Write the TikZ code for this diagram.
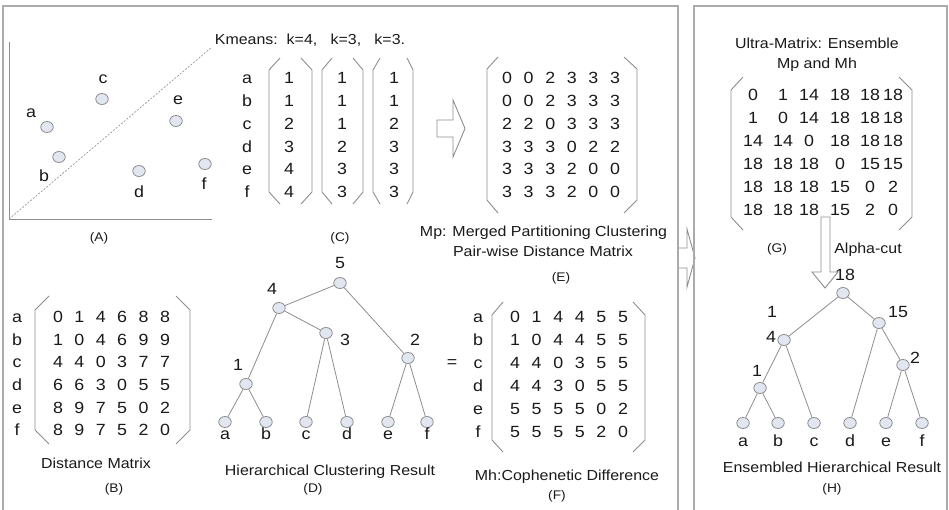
\documentclass[tikz,border=0pt]{standalone}
\usepackage{fontspec}
\setmainfont{Liberation Sans}[FakeStretch=1.1]
\usetikzlibrary{shapes.geometric}
\definecolor{frm}{HTML}{ABABAB}
\definecolor{ln}{HTML}{8E8E8E}
\definecolor{dotfill}{HTML}{E2E6F0}
\definecolor{txt}{HTML}{1A1A1A}
\tikzset{
 mat/.style={font=\fontsize{16.2}{18}\selectfont, text=txt, inner sep=0pt, text height=11.6pt, text depth=0pt},
 captxt/.style={font=\fontsize{14.5}{16}\selectfont, text=txt, inner sep=0pt, text height=10.4pt, text depth=0pt},
 lbl/.style={font=\fontsize{12.5}{14}\selectfont, text=txt, inner sep=0pt, text height=9pt, text depth=0pt},
 ball/.style={ellipse, draw=ln, fill=dotfill, line width=0.8pt, minimum width=12.5pt, minimum height=11pt, inner sep=0pt},
 conn/.style={draw=ln, line width=0.8pt},
 brk/.style={draw=ln, line width=0.9pt, line join=miter},
 boxline/.style={draw=frm, line width=1.3pt},
 hollow/.style={draw=ln, fill=white, line width=0.9pt, line join=miter},
}
\begin{document}
\begin{tikzpicture}[x=1pt,y=-1pt]
\fill[white] (0,0) rectangle (949,510);
\useasboundingbox (0,0) rectangle (949,510);

% ---------- frames and connecting arrow ----------
\draw[hollow] (678,248) -- (687,248) -- (687,229) -- (695,258) -- (687,287) -- (687,268) -- (678,268);
\draw[boxline] (3,510) -- (3,6) -- (678,6) -- (678,510);
\draw[boxline] (694,510) -- (694,6) -- (947,6) -- (947,510);

% ---------- (A) scatter ----------
\draw[ln, line width=0.8pt] (9,42) -- (9,219) -- (212,219);
\draw[ln, dash pattern=on 2pt off 1.5pt, line width=0.6pt] (9,219) -- (212,47);
\foreach \n/\x/\y/\lx/\ly in {a/47/127/31/112, b/59/157/44/176, c/102/99/103/78, d/139/171/139/192, e/176/121/178/99, f/205/164/204/184} {
  \node[ball] (p\n) at (\x,\y) {};
  \node[mat] (pl\n) at (\lx,\ly) {\n};
}
\node[lbl] (tA) at (99,237) {(A)};

% ---------- (C) kmeans ----------
\node[captxt] (km) at (310,39) {Kmeans:~~k=4,~~~k=3,~~~k=3.};
\foreach \l [count=\i] in {a,...,f}
  \node[mat] (Cl\i) at (247,{78+(\i-1)*22.8}) {\l};
\foreach \col/\cx [count=\k] in {{1,1,2,3,4,4}/289, {1,1,1,2,3,3}/342, {1,1,2,3,3,3}/394} {
  \foreach \v [count=\i] in \col
    \node[mat] (C\k\i) at (\cx,{78+(\i-1)*22.8}) {\v};
}
\draw[brk] (280,58) -- (269,70) -- (269,192) -- (280,204);
\draw[brk] (301,58) -- (312,70) -- (312,192) -- (301,204);
\draw[brk] (332,58) -- (322,70) -- (322,192) -- (332,204);
\draw[brk] (353,58) -- (363,70) -- (363,192) -- (353,204);
\draw[brk] (380,58) -- (373,70) -- (373,192) -- (380,204);
\draw[brk] (407,58) -- (413,70) -- (413,192) -- (407,204);
\node[lbl] (tC) at (340,237) {(C)};

% ---------- arrow C -> E ----------
\draw[hollow] (437,120) -- (453,120) -- (453,100) -- (465,128.5) -- (453,157) -- (453,137) -- (437,137) -- cycle;

% ---------- (E) Mp ----------
\foreach \r [count=\i] in {{0,0,2,3,3,3},{0,0,2,3,3,3},{2,2,0,3,3,3},{3,3,3,0,2,2},{3,3,3,2,0,0},{3,3,3,2,0,0}} {
  \foreach \v [count=\j] in \r
    \node[mat] (E\i\j) at ({507+(\j-1)*21.6},{78+(\i-1)*22.8}) {\v};
}
\draw[brk] (498,57) -- (487,69) -- (487,200) -- (498,213);
\draw[brk] (624,57) -- (637,69) -- (637,200) -- (624,213);
\node[captxt] (mp1) at (543.5,231) {Mp: Merged Partitioning Clustering};
\node[captxt] (mp2) at (543,251) {Pair-wise Distance Matrix};
\node[lbl] (tE) at (561,277) {(E)};

% ---------- (B) distance matrix ----------
\foreach \l [count=\i] in {a,...,f}
  \node[mat] (Bl\i) at (17,{316.5+(\i-1)*22.7}) {\l};
\foreach \r [count=\i] in {{0,1,4,6,8,8},{1,0,4,6,9,9},{4,4,0,3,7,7},{6,6,3,0,5,5},{8,9,7,5,0,2},{8,9,7,5,2,0}} {
  \foreach \v [count=\j] in \r
    \node[mat] (B\i\j) at ({58+(\j-1)*21.4},{316.5+(\i-1)*22.7}) {\v};
}
\draw[brk] (49,296) -- (35,310) -- (35,430) -- (49,444);
\draw[brk] (176,296) -- (190,310) -- (190,430) -- (176,444);
\node[captxt] (capB) at (96,463) {Distance Matrix};
\node[lbl] (tB) at (114,488) {(B)};

% ---------- (D) hierarchical tree ----------
\node[ball] (d5) at (340,283) {};
\node[ball] (d4) at (279,308) {};
\node[ball] (d3) at (326,333) {};
\node[ball] (d2) at (408,358) {};
\node[ball] (d1) at (246,384) {};
\foreach \l/\x in {a/225,b/266,c/306,d/347,e/388,f/427} {
  \node[ball] (dl\l) at (\x,422) {};
  \node[mat] (dt\l) at (\x,434) {\l};
}
\draw[conn] (d5) -- (d4);
\draw[conn] (d5) -- (d2);
\draw[conn] (d4) -- (d1);
\draw[conn] (d4) -- (d3);
\draw[conn] (d1) -- (dla);
\draw[conn] (d1) -- (dlb);
\draw[conn] (d3) -- (dlc);
\draw[conn] (d3) -- (dld);
\draw[conn] (d2) -- (dle);
\draw[conn] (d2) -- (dlf);
\node[mat] (d5t) at (340,263) {5};
\node[mat] (d4t) at (272,289) {4};
\node[mat] (d3t) at (345,340) {3};
\node[mat] (d2t) at (415,340) {2};
\node[mat] (d1t) at (238,365) {1};
\node[captxt] (capD) at (330,470) {Hierarchical Clustering Result};
\node[lbl] (tD) at (313,488) {(D)};

% ---------- (F) cophenetic ----------
\node[mat] (eq) at (452,362) {=};
\foreach \l [count=\i] in {a,...,f}
  \node[mat] (Fl\i) at (478,{317+(\i-1)*23}) {\l};
\foreach \r [count=\i] in {{0,1,4,4,5,5},{1,0,4,4,5,5},{4,4,0,3,5,5},{4,4,3,0,5,5},{5,5,5,5,0,2},{5,5,5,5,2,0}} {
  \foreach \v [count=\j] in \r
    \node[mat] (F\i\j) at ({515+(\j-1)*21.6},{317+(\i-1)*23}) {\v};
}
\draw[brk] (503,302) -- (492,315) -- (492,440) -- (503,452);
\draw[brk] (633,302) -- (645,315) -- (645,440) -- (633,452);
\node[captxt] (capF) at (567,475) {Mh:Cophenetic Difference};
\node[lbl] (tF) at (557,495) {(F)};

% ---------- (G) ultra-matrix ----------
\node[captxt] (g1) at (817,43) {Ultra-Matrix: Ensemble};
\node[captxt] (g2) at (817,63) {Mp and Mh};
\foreach \r [count=\i] in {{0,1,14,18,18,18},{1,0,14,18,18,18},{14,14,0,18,18,18},{18,18,18,0,15,15},{18,18,18,15,0,2},{18,18,18,15,2,0}} {
  \foreach \v [count=\j] in \r {
    \pgfmathsetmacro{\gx}{{753,783,809,840,870,893}[\j-1]}
    \node[mat] (G\i\j) at (\gx,{95+(\i-1)*23}) {\v};
  }
}
\draw[brk] (743,77) -- (731,90) -- (731,217) -- (743,230);
\draw[brk] (899,77) -- (912,90) -- (912,217) -- (899,230);
\node[lbl] (tG) at (777,248) {(G)};
\node[captxt] (alpha) at (868,248) {Alpha-cut};

% ---------- arrow G -> H ----------
\draw[hollow] (821,217) -- (830,217) -- (830,272) -- (838,272) -- (825,288) -- (812,272) -- (821,272) -- cycle;

% ---------- (H) ensembled tree ----------
\node[ball] (h18) at (843,293) {};
\node[ball] (h15) at (879,323) {};
\node[ball] (h4) at (784,340) {};
\node[ball] (h2) at (903,365) {};
\node[ball] (h1) at (760,388) {};
\foreach \l/\x in {a/743,b/778,c/814,d/850,e/886,f/922} {
  \node[ball] (hl\l) at (\x,423) {};
  \node[mat] (ht\l) at (\x,441) {\l};
}
\draw[conn] (h18) -- (h4);
\draw[conn] (h18) -- (h15);
\draw[conn] (h4) -- (h1);
\draw[conn] (h4) -- (hlc);
\draw[conn] (h1) -- (hla);
\draw[conn] (h1) -- (hlb);
\draw[conn] (h15) -- (hld);
\draw[conn] (h15) -- (h2);
\draw[conn] (h2) -- (hle);
\draw[conn] (h2) -- (hlf);
\node[mat] (h18t) at (845,275) {18};
\node[mat] (h15t) at (898,312) {15};
\node[mat] (h4a) at (772,312) {1};
\node[mat] (h4b) at (771,337) {4};
\node[mat] (h2t) at (915,358) {2};
\node[mat] (h1t) at (757,371) {1};
\node[captxt] (capH) at (832,467) {Ensembled Hierarchical Result};
\node[lbl] (tH) at (832,488) {(H)};
\end{tikzpicture}
\end{document}
